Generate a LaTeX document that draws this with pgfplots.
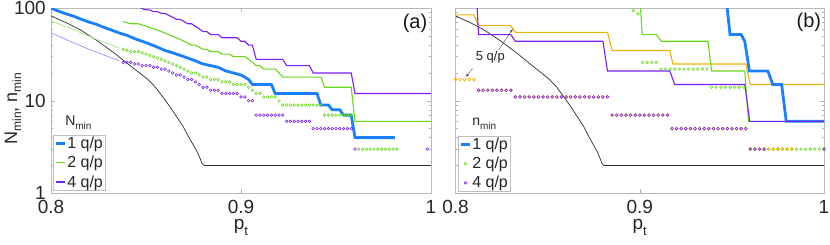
\documentclass[border=0pt]{standalone}
\usepackage{fontspec}
\setmainfont{Liberation Sans}
\usepackage{pgfplots}
\pgfplotsset{compat=1.18}
\usetikzlibrary{arrows.meta}

\definecolor{cblue}{RGB}{26,128,255}
\definecolor{cgreen}{RGB}{102,217,26}
\definecolor{cpurple}{RGB}{122,30,255}
\definecolor{corange}{RGB}{240,178,0}
\definecolor{clgreen}{RGB}{172,232,140}
\definecolor{clpurple}{RGB}{186,142,255}
\definecolor{cblack}{RGB}{45,45,45}

% subscript with explicit size and drop
\newcommand{\sbs}[3]{\raisebox{-#2}{\fontsize{#1}{#1}\selectfont #3}}

\pgfplotsset{
  legend image code/.code={\draw[mark repeat=2,mark phase=2,#1] plot coordinates {(0pt,0pt) (4.5pt,0pt) (9pt,0pt)};},
}

\begin{document}
\begin{tikzpicture}
\useasboundingbox (0,0) rectangle (830pt,245pt);

% ---------------- panel (a) ----------------
\begin{axis}[width=380pt, height=185pt, scale only axis, at={(51pt,51.7pt)}, anchor=south west,
  ymode=log, xmin=0.8, xmax=1, ymin=1, ymax=100,
  xtick={0.8,0.9,1}, xticklabels={0.8,0.9,1},
  ytick={1,10,100}, yticklabels={1,10,100},
  minor ytick={2,3,4,5,6,7,8,9,20,30,40,50,60,70,80,90},
  tick align=inside, xtick pos=both, ytick pos=both,
  major tick length=4pt, minor tick length=2.2pt,
  axis line style={draw=gray!55, line width=0.6pt},
  tick style={draw=gray!60, line width=0.5pt},
  tick label style={font=\fontsize{19}{21}\selectfont, text=black!85, inner sep=0pt},
  xticklabel style={anchor=north, yshift=-7pt},
  yticklabel style={anchor=east, xshift=-5pt},
  label style={font=\fontsize{19}{21}\selectfont, text=black!85, inner sep=0pt},
  xlabel={p\sbs{13}{6pt}{t}},
  xlabel style={at={(axis description cs:0.5,-0.196)}, anchor=base},
  ylabel={N\sbs{12}{4pt}{min}, n\sbs{12}{4pt}{min}},
  ylabel style={font=\fontsize{18}{20}\selectfont, at={(axis description cs:-0.1,0.458)}, anchor=center},
  legend style={at={(axis description cs:0.006,0.014)}, anchor=south west,
    draw=gray!50, fill=white, font=\fontsize{16}{18}\selectfont, text=black!85,
    inner xsep=1pt, inner ysep=1pt, row sep=4pt, nodes={inner sep=1pt}},
  legend cell align=left,
]
\addplot[color=cblack, line width=0.7pt, forget plot] coordinates {(0.800,83)(0.804,76)(0.808,70)(0.812,63.5)(0.8157,58)(0.820,51)(0.8247,44)(0.829,38)(0.834,32)(0.8405,25)(0.846,20.5)(0.851,17)(0.855,14)(0.8584,11.3)(0.8625,8.7)(0.8668,6.4)(0.8695,5.3)(0.8721,4.2)(0.875,3.3)(0.8774,2.7)(0.8795,2.1)(0.8805,2)(1.0,2)};
\addplot[color=clgreen, line width=0.8pt, forget plot] coordinates {(0.800,73)(0.804,68)(0.808,63)(0.812,59)(0.816,54)(0.820,50)(0.824,46)(0.828,43)(0.832,40)(0.836,37)};
\addplot[color=clpurple, line width=0.8pt, forget plot] coordinates {(0.800,54)(0.805,49)(0.810,44)(0.815,40)(0.820,36)(0.825,33)(0.830,30)(0.836,27)};
\addplot[color=cblue, line width=2.8pt] coordinates {(0.800,100)(0.804,93)(0.808,87)(0.812,82)(0.816,76)(0.820,71)(0.824,67)(0.828,62)(0.832,58)(0.836,54)(0.840,51)(0.844,47)(0.848,44)(0.852,41)(0.856,38)(0.860,35)(0.864,33)(0.868,31)(0.872,29)(0.876,27)(0.880,25)(0.884,24)(0.888,23)(0.892,21)(0.896,20)(0.900,19)(0.902,18)(0.904,17)(0.906,15)(0.916,15)(0.918,12)(0.940,12)(0.942,9)(0.946,9)(0.948,8)(0.952,8)(0.954,7)(0.958,7)(0.960,4)(0.981,4)};
\addlegendentry{1 q/p}
\addplot[color=cgreen, line width=1.1pt] coordinates {(0.838,72)(0.840,70)(0.842,68)(0.846,68)(0.848,66)(0.850,64)(0.852,62)(0.854,60)(0.856,58)(0.858,56)(0.860,54)(0.862,52)(0.864,50)(0.866,48)(0.868,46)(0.870,44)(0.872,42)(0.874,40)(0.876,40)(0.878,38)(0.880,36)(0.882,36)(0.884,34)(0.888,34)(0.890,32)(0.894,32)(0.896,30)(0.902,30)(0.904,28)(0.906,26)(0.908,24)(0.910,24)(0.912,22)(0.918,22)(0.920,20)(0.922,18)(0.942,18)(0.944,14)(0.958,14)(0.960,6)(1.000,6)};
\addlegendentry{2 q/p}
\addplot[color=cpurple, line width=1.1pt] coordinates {(0.847,102)(0.849,97)(0.852,96)(0.854,92)(0.856,92)(0.858,88)(0.860,88)(0.862,84)(0.864,80)(0.866,76)(0.868,76)(0.870,72)(0.872,68)(0.874,68)(0.876,64)(0.878,60)(0.880,56)(0.882,56)(0.884,52)(0.888,52)(0.890,48)(0.898,48)(0.900,44)(0.902,44)(0.904,40)(0.906,40)(0.908,28)(0.922,28)(0.924,24)(0.936,24)(0.938,20)(0.958,20)(0.960,12)(1.000,12)};
\addlegendentry{4 q/p}
\addplot[only marks, mark=o, mark size=1.35pt, mark options={line width=0.55pt}, color=cpurple, forget plot] coordinates {(0.838,26)(0.840,26)(0.842,26)(0.844,25)(0.846,25)(0.848,24)(0.850,24)(0.852,24)(0.854,23)(0.856,23)(0.858,22)(0.860,22)(0.862,21)(0.864,20)(0.866,19)(0.868,19)(0.870,18)(0.872,17)(0.874,17)(0.876,16)(0.878,15)(0.880,14)(0.882,14)(0.884,13)(0.886,13)(0.888,13)(0.890,12)(0.892,12)(0.894,12)(0.896,12)(0.898,12)(0.900,11)(0.902,11)(0.904,10)(0.906,10)(0.908,7)(0.910,7)(0.912,7)(0.914,7)(0.916,7)(0.918,7)(0.920,7)(0.922,7)(0.924,6)(0.926,6)(0.928,6)(0.930,6)(0.932,6)(0.934,6)(0.936,6)(0.938,5)(0.940,5)(0.942,5)(0.944,5)(0.946,5)(0.948,5)(0.950,5)(0.952,5)(0.954,5)(0.956,5)(0.958,5)(0.960,3)(0.998,3)};
\addplot[only marks, mark=o, mark size=1.35pt, mark options={line width=0.55pt}, color=cgreen, forget plot] coordinates {(0.838,36)(0.840,35)(0.842,34)(0.844,34)(0.846,34)(0.848,33)(0.850,32)(0.852,31)(0.854,30)(0.856,29)(0.858,28)(0.860,27)(0.862,26)(0.864,25)(0.866,24)(0.868,23)(0.870,22)(0.872,21)(0.874,20)(0.876,20)(0.878,19)(0.880,18)(0.882,18)(0.884,17)(0.886,17)(0.888,17)(0.890,16)(0.892,16)(0.894,16)(0.896,15)(0.898,15)(0.900,15)(0.902,15)(0.904,14)(0.906,13)(0.908,12)(0.910,12)(0.912,11)(0.914,11)(0.916,11)(0.918,11)(0.920,10)(0.922,9)(0.924,9)(0.926,9)(0.928,9)(0.930,9)(0.932,9)(0.934,9)(0.936,9)(0.938,9)(0.940,9)(0.942,9)(0.944,7)(0.946,7)(0.948,7)(0.950,7)(0.952,7)(0.954,7)(0.956,7)(0.958,7)(0.962,3)(0.964,3)(0.966,3)(0.968,3)(0.970,3)(0.972,3)(0.974,3)(0.976,3)(0.978,3)(0.980,3)(0.982,3)};
\node[anchor=base west, font=\fontsize{14}{16}\selectfont, text=black!85, inner sep=0pt] at (axis description cs:0.037,0.368) {N\sbs{10}{4pt}{min}};
\node[font=\fontsize{20}{22}\selectfont, text=black!90] at (axis description cs:0.958,0.918) {(a)};
\end{axis}

% ---------------- panel (b) ----------------
\begin{axis}[width=368.5pt, height=185pt, scale only axis, at={(455.5pt,51.7pt)}, anchor=south west,
  ymode=log, xmin=0.8, xmax=1, ymin=1, ymax=100,
  xtick={0.8,0.9,1}, xticklabels={0.8,0.9,1},
  ytick={1,10,100}, yticklabels={},
  minor ytick={2,3,4,5,6,7,8,9,20,30,40,50,60,70,80,90},
  tick align=inside, xtick pos=both, ytick pos=both,
  major tick length=4pt, minor tick length=2.2pt,
  axis line style={draw=gray!55, line width=0.6pt},
  tick style={draw=gray!60, line width=0.5pt},
  tick label style={font=\fontsize{19}{21}\selectfont, text=black!85, inner sep=0pt},
  xticklabel style={anchor=north, yshift=-7pt},
  label style={font=\fontsize{19}{21}\selectfont, text=black!85, inner sep=0pt},
  xlabel={p\sbs{13}{6pt}{t}},
  xlabel style={at={(axis description cs:0.5,-0.196)}, anchor=base},
  legend style={at={(axis description cs:0.0076,0.009)}, anchor=south west,
    draw=gray!50, fill=white, font=\fontsize{16}{18}\selectfont, text=black!85,
    inner xsep=1pt, inner ysep=1pt, row sep=4pt, nodes={inner sep=1pt}},
  legend cell align=left,
]
\addplot[color=cblack, line width=0.7pt, forget plot] coordinates {(0.800,83)(0.804,76)(0.808,70)(0.812,63.5)(0.8157,58)(0.820,51)(0.8247,44)(0.829,38)(0.834,32)(0.8405,25)(0.846,20.5)(0.851,17)(0.855,14)(0.8584,11.3)(0.8625,8.7)(0.8668,6.4)(0.8695,5.3)(0.8721,4.2)(0.875,3.3)(0.8774,2.7)(0.8795,2.1)(0.8805,2)(1.0,2)};
\addplot[color=corange, line width=1.1pt, forget plot] coordinates {(0.800,85)(0.810,85)(0.8125,65)(0.830,65)(0.8325,55)(0.8825,55)(0.885,35)(0.9163,35)(0.918,25)(0.9575,25)(0.960,15)(1.000,15)};
\addplot[color=cblue, line width=2.8pt] coordinates {(0.9465,150)(0.949,52)(0.955,52)(0.957,44)(0.9595,21)(0.9695,21)(0.9722,15)(0.977,15)(0.9795,6)(1.000,6)};
\addlegendentry{1 q/p}
\addplot[color=cgreen, line width=1.1pt, forget plot] coordinates {(0.8995,200)(0.9013,52)(0.909,52)(0.9118,44)(0.937,44)(0.939,21)(0.957,21)(0.959,6)(1.000,6)};
\addplot[color=cpurple, line width=1.1pt, forget plot] coordinates {(0.8110,200)(0.8125,52)(0.830,52)(0.8325,44)(0.880,44)(0.8825,21)(0.9163,21)(0.919,15)(0.957,15)(0.9597,6)(1.000,6)};
\addplot[only marks, mark=o, mark size=1.35pt, mark options={line width=0.55pt}, color=cgreen] coordinates {(0.8965,94)(0.899,87)(0.9015,26)(0.904,26)(0.9065,26)(0.909,26)(0.9115,22)(0.914,22)(0.9165,22)(0.919,22)(0.9215,22)(0.924,22)(0.9265,22)(0.929,22)(0.9315,22)(0.934,22)(0.9365,22)(0.939,14)(0.9415,14)(0.944,14)(0.9465,14)(0.949,14)(0.9515,14)(0.954,14)(0.9565,14)(0.960,3)(0.9625,3)(0.965,3)(0.9675,3)(0.970,3)(0.9725,3)(0.975,3)(0.9775,3)(0.980,3)(0.9825,3)(0.985,3)(0.9875,3)(0.990,3)(0.9925,3)(0.995,3)(0.9975,3)(1.000,3)};
\addlegendentry{2 q/p}
\addplot[only marks, mark=o, mark size=1.6pt, mark options={line width=0.55pt}, color=corange, forget plot] coordinates {(0.800,17)(0.8025,17)(0.805,17)(0.8075,17)(0.810,17)(0.8125,13)(0.815,13)(0.8175,13)(0.820,13)(0.8225,13)(0.825,13)(0.8275,13)(0.830,13)(0.8325,11)(0.835,11)(0.8375,11)(0.840,11)(0.8425,11)(0.845,11)(0.8475,11)(0.850,11)(0.8525,11)(0.855,11)(0.8575,11)(0.860,11)(0.8625,11)(0.865,11)(0.8675,11)(0.870,11)(0.8725,11)(0.875,11)(0.8775,11)(0.880,11)(0.8825,11)(0.885,7)(0.8875,7)(0.890,7)(0.8925,7)(0.895,7)(0.8975,7)(0.900,7)(0.9025,7)(0.905,7)(0.9075,7)(0.910,7)(0.9125,7)(0.915,7)(0.9175,5)(0.920,5)(0.9225,5)(0.925,5)(0.9275,5)(0.930,5)(0.9325,5)(0.935,5)(0.9375,5)(0.940,5)(0.9425,5)(0.945,5)(0.9475,5)(0.950,5)(0.9525,5)(0.955,5)(0.9575,5)(0.960,3)(0.9625,3)(0.965,3)(0.9675,3)(0.970,3)(0.9725,3)(0.975,3)(0.9775,3)(0.980,3)(0.9825,3)};
\addplot[only marks, mark=o, mark size=1.35pt, mark options={line width=0.55pt}, color=cpurple] coordinates {(0.8125,13)(0.815,13)(0.8175,13)(0.820,13)(0.8225,13)(0.825,13)(0.8275,13)(0.830,13)(0.8325,11)(0.835,11)(0.8375,11)(0.840,11)(0.8425,11)(0.845,11)(0.8475,11)(0.850,11)(0.8525,11)(0.855,11)(0.8575,11)(0.860,11)(0.8625,11)(0.865,11)(0.8675,11)(0.870,11)(0.8725,11)(0.875,11)(0.8775,11)(0.880,11)(0.8825,11)(0.885,7)(0.8875,7)(0.890,7)(0.8925,7)(0.895,7)(0.8975,7)(0.900,7)(0.9025,7)(0.905,7)(0.9075,7)(0.910,7)(0.9125,7)(0.915,7)(0.9175,5)(0.920,5)(0.9225,5)(0.925,5)(0.9275,5)(0.930,5)(0.9325,5)(0.935,5)(0.9375,5)(0.940,5)(0.9425,5)(0.945,5)(0.9475,5)(0.950,5)(0.9525,5)(0.955,5)(0.9575,5)(0.960,3)(0.9625,3)(0.965,3)(0.9675,3)(1.000,3)};
\addlegendentry{4 q/p}
\node[font=\fontsize{13}{15}\selectfont, text=black!85] at (axis cs:0.8189,30) {5 q/p};
\draw[-{Stealth[length=3.5pt,width=3pt]}, black!70, line width=0.4pt] (axis cs:0.8093,22.4) -- (axis cs:0.8057,18.2);
\draw[-{Stealth[length=3.5pt,width=3pt]}, black!70, line width=0.4pt] (axis cs:0.8234,35.5) -- (axis cs:0.8310,59.4);
\node[anchor=base west, font=\fontsize{14}{16}\selectfont, text=black!85, inner sep=0pt] at (axis description cs:0.045,0.368) {n\sbs{10}{4pt}{min}};
\node[font=\fontsize{20}{22}\selectfont, text=black!90] at (axis description cs:0.959,0.923) {(b)};
\end{axis}
\end{tikzpicture}
\end{document}
